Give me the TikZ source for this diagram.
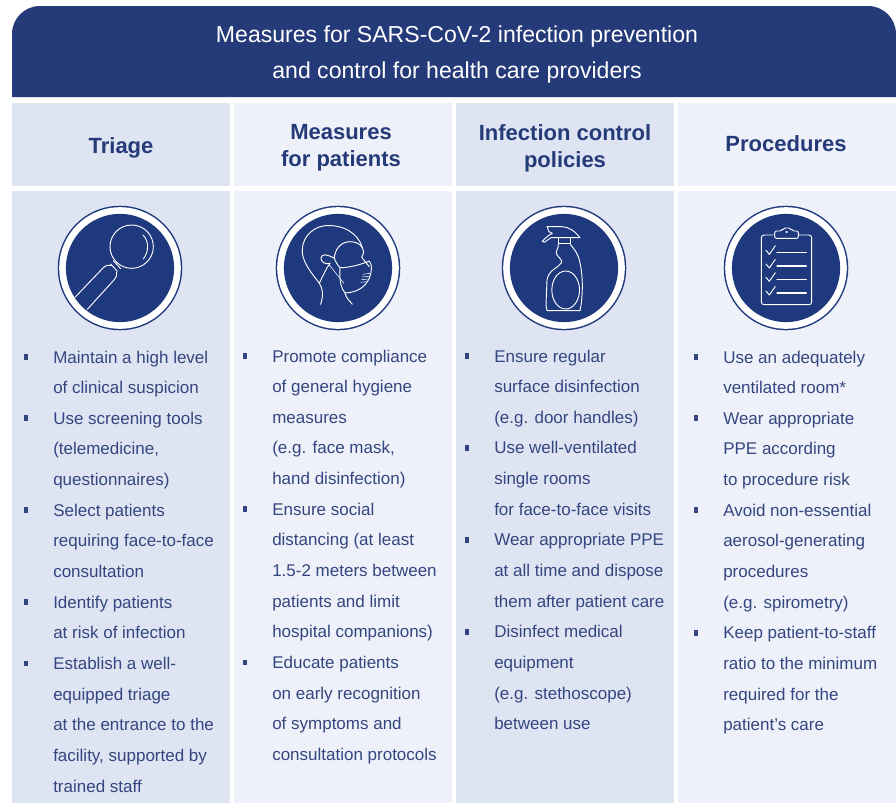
\documentclass[tikz,border=0pt]{standalone}
\usepackage{fontspec}
\setmainfont{Liberation Sans}
\definecolor{navy}{HTML}{253A78}
\definecolor{disc}{HTML}{1F397F}
\definecolor{cella}{HTML}{DFE4F3}
\definecolor{cellb}{HTML}{EEF1F9}
\definecolor{bodytxt}{HTML}{34467F}
\newcommand{\lst}[5]{\node[itemtext,name=t#1r#3] at (#2,{#5+30.65*#3}) {#4};}
\newcommand{\bul}[4]{\fill[bodytxt] ({#2-2.4},{#4+30.65*#3-9}) rectangle ({#2+2.2},{#4+30.65*#3-3.2});}
\tikzset{
 itemtext/.style={anchor=base west,inner sep=0pt,text=bodytxt,font=\fontsize{12.75pt}{14pt}\selectfont},
 headtext/.style={align=center,inner sep=0pt,text=navy,font=\fontsize{16.5pt}{20.2pt}\selectfont\bfseries},
 titletext/.style={anchor=center,inner sep=0pt,text=white,font=\fontsize{17.3pt}{20pt}\selectfont},
 icon/.style={draw=white,line width=0.7pt,line join=round,line cap=round},
 thinicon/.style={draw=white,line width=0.4pt},
}
\begin{document}
\begin{tikzpicture}[x=0.75pt,y=-0.75pt]
\useasboundingbox (0,0) rectangle (896,803);
\fill[white] (0,0) rectangle (896,803);
% banner
\fill[navy] (12,97) -- (12,34) .. controls (12,18.5) and (24.5,6) .. (40,6) -- (868,6) .. controls (883.5,6) and (896,18.5) .. (896,34) -- (896,97) -- cycle;
\node[titletext] (title1) at (457,37) {Measures for SARS-CoV-2 infection prevention};
\node[titletext] (title2) at (457,73) {and control for health care providers};
% cells
\fill[cella] (12,103) rectangle (229.5,186);
\fill[cellb] (233.5,103) rectangle (452,186);
\fill[cella] (456,103) rectangle (673.5,186);
\fill[cellb] (678,103) rectangle (896,186);
\fill[cella] (12,191) rectangle (229.5,803);
\fill[cellb] (233.5,191) rectangle (452,803);
\fill[cella] (456,191) rectangle (673.5,803);
\fill[cellb] (678,191) rectangle (896,803);
% column heads
\node[headtext] (h1) at (121,148) {Triage};
\node[headtext] (h2) at (341,148) {Measures\\for patients};
\node[headtext] (h3) at (565,148) {Infection control\\policies};
\node[headtext] (h4) at (786,144) {Procedures};
% discs
\foreach \n/\cx in {a/120,b/338,c/564,d/786}{
 \fill[disc] (\cx,268) circle[radius=46.7pt];
 \fill[white] (\cx,268) circle[radius=45.6pt];
 \fill[disc] (\cx,268) circle[radius=40.6pt];
}
% magnifier
\begin{scope}[shift={(0,190)},x=0.25pt,y=-0.25pt]
 \draw[icon] (395,170) circle[radius=65pt*0.25];
 \draw[icon] (429,135) .. controls (447,152) and (447,185) .. (430,207);
 \draw[icon] (340,212) -- (362,236);
 \draw[icon] (332,222) -- (352,244);
 \draw[icon] (225,322) -- (308,235) .. controls (316,226) and (326,224) .. (334,226);
 \draw[icon] (262,358) -- (340,272) .. controls (349,262) and (352,254) .. (350,246);
\end{scope}
% face with mask
\begin{scope}[shift={(290,215)},x=0.25pt,y=-0.25pt]
 \draw[icon] (92,268) .. controls (100,240) and (100,225) .. (88,205) .. controls (70,180) and (42,150) .. (37,115) .. controls (33,75) and (60,38) .. (105,32) .. controls (160,28) and (205,55) .. (217,98);
 \draw[icon] (133,128) .. controls (135,105) and (150,82) .. (178,80) .. controls (195,80) and (210,85) .. (217,98) .. controls (222,110) and (222,120) .. (215,127) -- (238,155);
 \draw[icon] (133,128) .. controls (135,140) and (145,152) .. (150,158) .. controls (180,158) and (215,148) .. (238,138) .. controls (248,150) and (245,170) .. (238,190) .. controls (225,215) and (205,232) .. (165,234) .. controls (155,222) and (147,200) .. (150,158);
 \draw[icon] (120,145) .. controls (105,150) and (92,140) .. (93,128) .. controls (96,115) and (112,118) .. (133,130);
 \draw[icon] (120,145) -- (110,160) .. controls (100,180) and (92,195) .. (88,205);
 \draw[thinicon] (118,150) -- (162,205);
 \draw[icon] (165,234) .. controls (168,250) and (180,258) .. (187,268);
 \draw[thinicon] (218,178) -- (240,175) (216,186) -- (238,184) (214,194) -- (235,192) (212,202) -- (232,200);
\end{scope}
% spray bottle
\begin{scope}[shift={(525,215)},x=0.25pt,y=-0.25pt]
 \draw[icon] (100,68) -- (165,68) .. controls (150,48) and (130,35) .. (110,35) -- (66,35) -- (72,50) -- (82,55) -- (70,62);
 \draw[icon] (70,62) -- (52,78) -- (58,82) -- (78,68) -- (100,68);
 \draw[icon] (100,68) -- (100,86) -- (135,86) -- (135,68);
 \draw[icon] (100,86) .. controls (102,100) and (90,108) .. (95,118) .. controls (102,130) and (115,135) .. (108,145) .. controls (100,158) and (70,165) .. (66,195) -- (63,270) -- (66,287) -- (165,287) .. controls (175,240) and (175,170) .. (160,125) .. controls (152,105) and (140,95) .. (135,86);
 \draw[icon] (122,225) ellipse[x radius=41.5pt*0.25, y radius=57pt*0.25];
\end{scope}
% clipboard
\begin{scope}[shift={(450,190)},x=0.25pt,y=-0.25pt]
 \draw[icon,rounded corners=2pt] (934,135) rectangle (1085,344);
 \fill[disc] (970,128) rectangle (1048,140);
 \draw[icon,rounded corners=1.5pt] (974,123) -- (996,123) -- (1000,114) -- (1022,114) -- (1026,123) -- (1045,123) -- (1045,145) -- (974,145) -- cycle;
 \fill[white] (1010,126) circle[radius=0.9pt];
 \foreach \yy in {187,228,268,309}{
  \draw[icon,line width=0.9pt] (981,\yy) -- (1069,\yy);
  \draw[icon] (948,{\yy-6}) -- (958,{\yy+6}) -- (976,{\yy-20});
 }
\end{scope}
% column 1
\newcommand{\ca}[2]{\lst{a}{53}{#1}{#2}{363}}
\ca{0}{Maintain a high level}
\ca{1}{of clinical suspicion}
\ca{2}{Use screening tools}
\ca{3}{(telemedicine,}
\ca{4}{questionnaires)}
\ca{5}{Select patients}
\ca{6}{requiring face-to-face}
\ca{7}{consultation}
\ca{8}{Identify patients}
\ca{9}{at risk of infection}
\ca{10}{Establish a well-}
\ca{11}{equipped triage}
\ca{12}{at the entrance to the}
\ca{13}{facility, supported by}
\ca{14}{trained staff}
\foreach \r in {0,2,5,8,10}{\bul{a}{26}{\r}{363}}
% column 2
\newcommand{\cb}[2]{\lst{b}{272}{#1}{#2}{362}}
\cb{0}{Promote compliance}
\cb{1}{of general hygiene}
\cb{2}{measures}
\cb{3}{(e.g. face mask,}
\cb{4}{hand disinfection)}
\cb{5}{Ensure social}
\cb{6}{distancing (at least}
\cb{7}{1.5-2 meters between}
\cb{8}{patients and limit}
\cb{9}{hospital companions)}
\cb{10}{Educate patients}
\cb{11}{on early recognition}
\cb{12}{of symptoms and}
\cb{13}{consultation protocols}
\foreach \r in {0,5,10}{\bul{b}{245}{\r}{362}}
% column 3
\newcommand{\cc}[2]{\lst{c}{494}{#1}{#2}{362}}
\cc{0}{Ensure regular}
\cc{1}{surface disinfection}
\cc{2}{(e.g. door handles)}
\cc{3}{Use well-ventilated}
\cc{4}{single rooms}
\cc{5}{for face-to-face visits}
\cc{6}{Wear appropriate PPE}
\cc{7}{at all time and dispose}
\cc{8}{them after patient care}
\cc{9}{Disinfect medical}
\cc{10}{equipment}
\cc{11}{(e.g. stethoscope)}
\cc{12}{between use}
\foreach \r in {0,3,6,9}{\bul{c}{467}{\r}{362}}
% column 4
\newcommand{\cd}[2]{\lst{d}{723}{#1}{#2}{363}}
\cd{0}{Use an adequately}
\cd{1}{ventilated room*}
\cd{2}{Wear appropriate}
\cd{3}{PPE according}
\cd{4}{to procedure risk}
\cd{5}{Avoid non-essential}
\cd{6}{aerosol-generating}
\cd{7}{procedures}
\cd{8}{(e.g. spirometry)}
\cd{9}{Keep patient-to-staff}
\cd{10}{ratio to the minimum}
\cd{11}{required for the}
\cd{12}{patient’s care}
\foreach \r in {0,2,5,9}{\bul{d}{696}{\r}{363}}
\end{tikzpicture}
\end{document}
